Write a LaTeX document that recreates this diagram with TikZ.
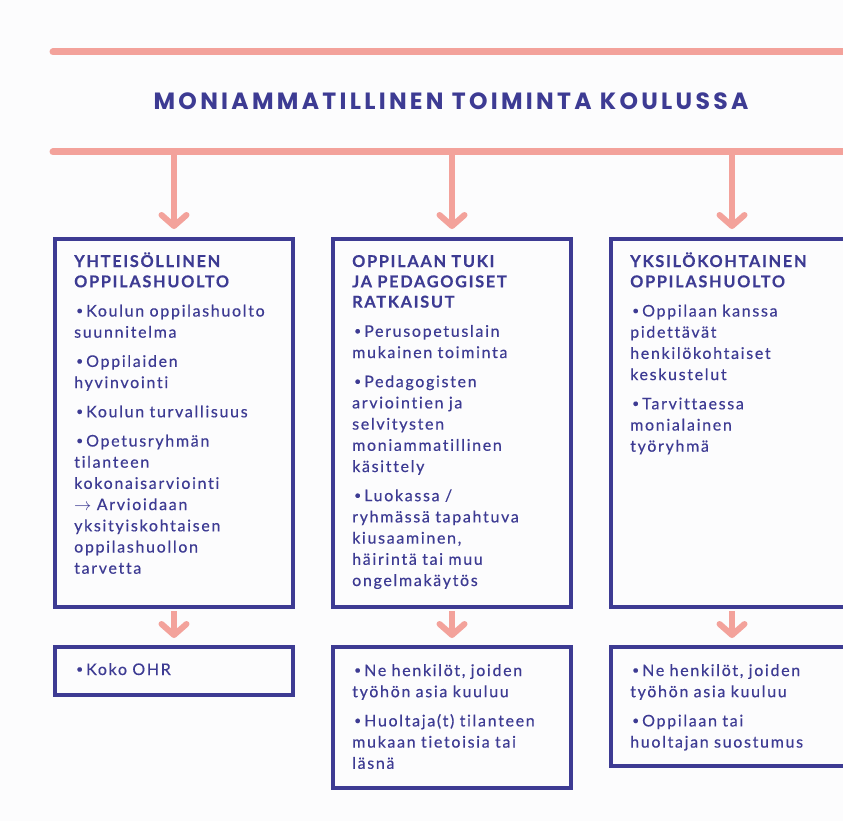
\documentclass[tikz,border=0pt]{standalone}
\usepackage{fontspec}
\usepackage{graphicx}
\setmainfont{Lato}
\newfontfamily\bodyfont[LetterSpace=10.5,FakeBold=0.4,Ligatures=NoCommon]{Lato}
\newfontfamily\titlefont[LetterSpace=14]{Poppins}
\usetikzlibrary{arrows.meta}
\definecolor{navy}{HTML}{3D3B93}
\definecolor{salmon}{HTML}{F3A29B}
\definecolor{bg}{HTML}{FCFCFD}
\newlength\bind \setlength\bind{12pt}
\newcommand\bl[1]{\hangindent=\bind\hangafter=1\noindent\makebox[\bind][l]{\hspace{2pt}\raisebox{0.12em}{\scalebox{0.75}{\textbullet}}}#1\par}
\newcommand\hd[1]{{\noindent\bfseries\fontsize{16.3}{20.3}\selectfont #1\par}}
\tikzset{
  box/.style={draw=navy, line width=4pt, inner sep=0pt, anchor=north west},
  txt/.style={anchor=base west, inner sep=0pt, text width=240pt, align=left, text=navy,
    font=\bodyfont\fontsize{16}{21.2}\selectfont\setlength{\parskip}{8pt}},
  bar/.style={salmon, line width=7pt, line cap=round},
  arr/.style={salmon, line width=6pt, -{Straight Barb[length=11pt,width=25pt,round]}},
}
\begin{document}
\begin{tikzpicture}[x=1pt,y=-1pt]
\fill[bg] (0,0) rectangle (843,821);
\useasboundingbox (0,0) rectangle (843,821);
\clip (0,0) rectangle (843,821);
% bars
\coordinate (l1a) at (53,52); \coordinate (l1b) at (870,52);
\coordinate (l2a) at (53,152); \coordinate (l2b) at (870,152);
\draw[bar] (l1a) -- (l1b);
\draw[bar] (l2a) -- (l2b);
\node[anchor=base, text=navy, font=\titlefont\bfseries\fontsize{23.5}{27}\selectfont] (title) at (451,109.5) {MONIAMMATILLINEN TOIMINTA KOULUSSA};
% boxes
\node[box, minimum width=238pt, minimum height=368pt] (b1) at (53,237) {};
\node[box, minimum width=238pt, minimum height=368pt] (b2) at (331,237) {};
\node[box, minimum width=242pt, minimum height=368pt] (b3) at (609,237) {};
\node[box, minimum width=238pt, minimum height=48pt] (b4) at (53,645) {};
\node[box, minimum width=238pt, minimum height=141pt] (b5) at (331,645) {};
\node[box, minimum width=242pt, minimum height=119pt] (b6) at (609,645) {};
% arrows
\coordinate (a1) at (b1.north |- l2a);
\coordinate (a2) at (b2.north |- l2a);
\coordinate (a3) at (b3.north |- l2a);
\draw[arr, shorten >=8pt] (a1) -- (b1.north);
\draw[arr, shorten >=8pt] (a2) -- (b2.north);
\draw[arr, shorten >=8pt] (a3) -- (b3.north);
\draw[arr, shorten >=7pt, shorten <=2pt] (b1.south) -- (b4.north);
\draw[arr, shorten >=7pt, shorten <=2pt] (b2.south) -- (b5.north);
\draw[arr, shorten >=7pt, shorten <=2pt] (b3.south) -- (b6.north);
% texts
\node[txt] (t1) at (74,267) {\hd{YHTEISÖLLINEN\\OPPILASHUOLTO}%
\bl{Koulun oppilashuolto\\suunnitelma}%
\bl{Oppilaiden\\hyvinvointi}%
\bl{Koulun turvallisuus}%
\bl{Opetusryhmän\\tilanteen\\kokonaisarviointi\\\ensuremath{\rightarrow} Arvioidaan\\yksityiskohtaisen\\oppilashuollon\\tarvetta}};
\node[txt] (t2) at (352,267) {\hd{OPPILAAN TUKI\\JA PEDAGOGISET\\RATKAISUT}%
\bl{Perusopetuslain\\mukainen toiminta}%
\bl{Pedagogisten\\arviointien ja\\selvitysten\\moniammatillinen\\käsittely}%
\bl{Luokassa /\\ryhmässä tapahtuva\\kiusaaminen,\\häirintä tai muu\\ongelmakäytös}};
\node[txt] (t3) at (630,267) {\hd{YKSILÖKOHTAINEN\\OPPILASHUOLTO}%
\bl{Oppilaan kanssa\\pidettävät\\henkilökohtaiset\\keskustelut}%
\bl{Tarvittaessa\\monialainen\\työryhmä}};
\node[txt] (t4) at (74,675) {\bl{Koko OHR}};
\node[txt] (t5) at (352,676) {\bl{Ne henkilöt, joiden\\työhön asia kuuluu}%
\bl{Huoltaja(t) tilanteen\\mukaan tietoisia tai\\läsnä}};
\node[txt] (t6) at (630,676) {\bl{Ne henkilöt, joiden\\työhön asia kuuluu}%
\bl{Oppilaan tai\\huoltajan suostumus}};
\end{tikzpicture}
\end{document}
